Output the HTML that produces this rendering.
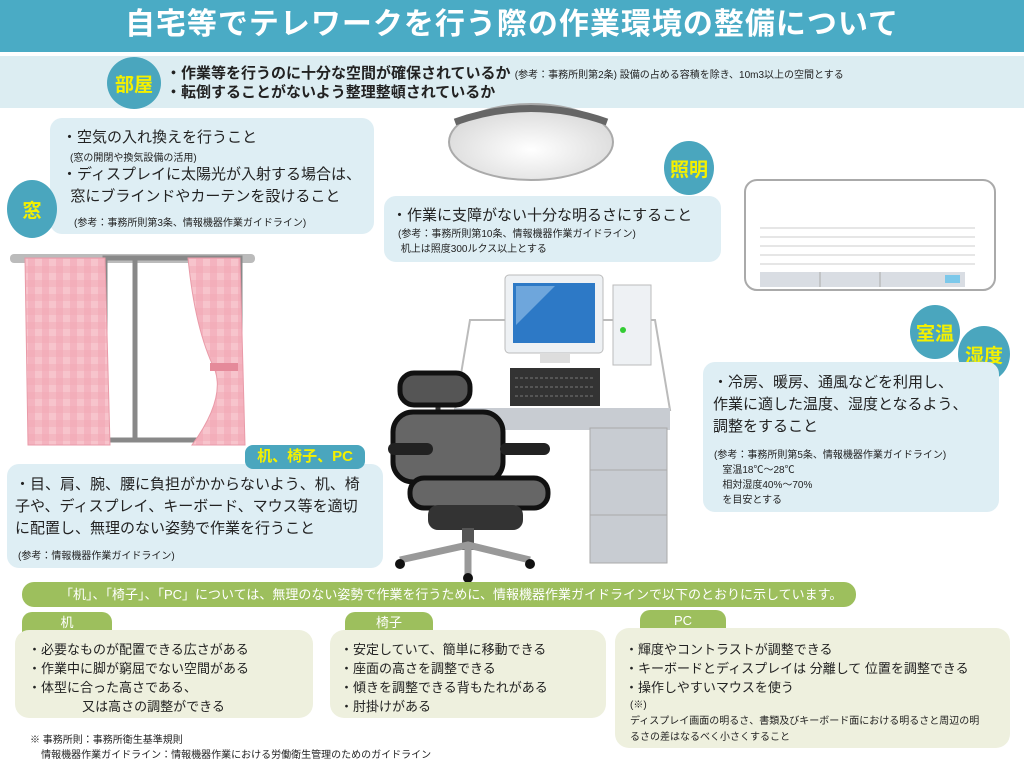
<!DOCTYPE html>
<html><head><meta charset="utf-8">
<style>
*{margin:0;padding:0;box-sizing:border-box}
body{width:1024px;height:771px;position:relative;background:#fff;overflow:hidden;font-family:"Liberation Sans","Noto Sans CJK JP",sans-serif;color:#222}
.a{position:absolute}
.box{position:absolute;background:#deeef4;border-radius:12px}
.circ{position:absolute;background:#4aa6be;border-radius:50%;color:#f4f000;font-weight:bold;display:flex;align-items:center;justify-content:center;font-size:19px}
.t{position:absolute;white-space:nowrap}
.g{position:absolute;background:#eef0de;border-radius:14px}
.tab{position:absolute;background:#9dbf5d;color:#fff;border-radius:10px 10px 0 0;font-size:13px;text-align:center;line-height:22px}
.s{font-size:10px}
</style></head><body>
<div class="a" style="left:0;top:0;width:1024px;height:52px;background:#4aabc5;color:#fff;font-size:30px;font-weight:bold;text-align:center;line-height:50px;letter-spacing:1px">自宅等でテレワークを行う際の作業環境の整備について</div>
<div class="a" style="left:0;top:56px;width:1024px;height:52px;background:#dcedf2"></div>
<div class="circ" style="left:107px;top:57px;width:54px;height:52px">部屋</div>
<div class="t" style="left:166px;top:62px;font-size:15px;font-weight:bold">・作業等を行うのに十分な空間が確保されているか <span class="s" style="font-weight:normal">(参考：事務所則第2条) 設備の占める容積を除き、10m3以上の空間とする</span></div>
<div class="t" style="left:166px;top:81px;font-size:15px;font-weight:bold">・転倒することがないよう整理整頓されているか</div>

<div class="box" style="left:50px;top:118px;width:324px;height:116px"></div>
<div class="t" style="left:62px;top:126px;font-size:15px">・空気の入れ換えを行うこと</div>
<div class="t s" style="left:70px;top:149px">(窓の開閉や換気設備の活用)</div>
<div class="t" style="left:62px;top:164px;font-size:15px;line-height:22px">・ディスプレイに太陽光が入射する場合は、<br>&nbsp;&nbsp;窓にブラインドやカーテンを設けること</div>
<div class="t s" style="left:74px;top:214px">(参考：事務所則第3条、情報機器作業ガイドライン)</div>
<div class="circ" style="left:7px;top:180px;width:50px;height:58px">窓</div>

<div class="box" style="left:384px;top:196px;width:337px;height:66px"></div>
<div class="t" style="left:392px;top:204px;font-size:15px">・作業に支障がない十分な明るさにすること</div>
<div class="t s" style="left:398px;top:227px;line-height:15px">(参考：事務所則第10条、情報機器作業ガイドライン)<br>&nbsp;机上は照度300ルクス以上とする</div>
<div class="circ" style="left:664px;top:141px;width:50px;height:54px">照明</div>

<svg class="a" style="left:0;top:0" width="1024" height="771">
<defs>
<radialGradient id="lg" cx="0.5" cy="0.6" r="0.6"><stop offset="0" stop-color="#fff"/><stop offset="1" stop-color="#d8d8d8"/></radialGradient>
<pattern id="ck" width="14" height="14" patternUnits="userSpaceOnUse"><rect width="14" height="14" fill="#f7c4cc"/><rect width="7" height="14" fill="#f2a9b5" opacity=".6"/><rect width="14" height="7" fill="#f2a9b5" opacity=".5"/></pattern>
</defs>
<!-- lamp -->
<ellipse cx="531" cy="142" rx="82" ry="38" fill="url(#lg)" stroke="#aaa" stroke-width="2"/>
<path d="M455,122 Q531,95 607,122" fill="none" stroke="#666" stroke-width="7"/>
<!-- AC -->
<rect x="745" y="180" width="250" height="110" rx="12" fill="#fff" stroke="#aaa" stroke-width="2"/>
<g stroke="#ccc"><line x1="760" y1="228" x2="975" y2="228"/><line x1="760" y1="237" x2="975" y2="237"/><line x1="760" y1="246" x2="975" y2="246"/><line x1="760" y1="255" x2="975" y2="255"/><line x1="760" y1="264" x2="975" y2="264"/></g>
<rect x="760" y="272" width="205" height="15" fill="#d9dde3"/>
<line x1="820" y1="272" x2="820" y2="287" stroke="#aaa"/><line x1="880" y1="272" x2="880" y2="287" stroke="#aaa"/>
<rect x="945" y="275" width="15" height="8" fill="#7cc8ea"/>
<!-- window -->
<rect x="10" y="254" width="245" height="9" rx="4" fill="#bbb"/>
<rect x="105" y="258" width="135" height="182" fill="none" stroke="#888" stroke-width="5"/>
<line x1="135" y1="258" x2="135" y2="440" stroke="#888" stroke-width="5"/>
<path d="M25,258 L105,258 L110,445 L28,445 Z" fill="url(#ck)" stroke="#e99aa8"/>
<path d="M188,258 L240,258 L245,445 L192,445 Q225,400 215,370 Q195,330 188,258Z" fill="url(#ck)" stroke="#e99aa8"/>
<rect x="210" y="363" width="28" height="8" fill="#e58a9a"/>
<!-- desk -->
<path d="M470,320 L655,320 L670,410 L455,410 Z" fill="#fff" stroke="#bbb" stroke-width="2"/>
<rect x="455" y="408" width="215" height="22" fill="#c8ccd2"/>
<rect x="590" y="428" width="77" height="135" fill="#c8ccd2" stroke="#aaa"/>
<line x1="590" y1="470" x2="667" y2="470" stroke="#aaa"/><line x1="590" y1="515" x2="667" y2="515" stroke="#aaa"/>
<rect x="505" y="275" width="98" height="78" rx="4" fill="#eef1f4" stroke="#bbb"/>
<rect x="513" y="283" width="82" height="60" fill="#2d79c6"/>
<path d="M516,286 L555,286 L516,325Z" fill="#6ea6dc"/>
<rect x="540" y="353" width="30" height="10" fill="#ddd"/>
<rect x="613" y="285" width="38" height="80" fill="#eef1f4" stroke="#bbb"/>
<circle cx="623" cy="330" r="3" fill="#3c3"/>
<rect x="510" y="368" width="90" height="38" fill="#333"/>
<g stroke="#777" stroke-dasharray="3,2"><line x1="515" y1="378" x2="595" y2="378"/><line x1="515" y1="387" x2="595" y2="387"/><line x1="515" y1="396" x2="595" y2="396"/></g>
<!-- chair -->
<line x1="438" y1="390" x2="438" y2="420" stroke="#333" stroke-width="5"/>
<rect x="400" y="373" width="70" height="32" rx="14" fill="#555" stroke="#111" stroke-width="5"/>
<rect x="393" y="412" width="110" height="70" rx="20" fill="#666" stroke="#111" stroke-width="5"/>
<rect x="410" y="478" width="138" height="30" rx="14" fill="#666" stroke="#111" stroke-width="5"/>
<rect x="388" y="443" width="45" height="12" rx="6" fill="#222"/>
<rect x="500" y="443" width="50" height="12" rx="6" fill="#222"/>
<rect x="428" y="505" width="95" height="25" rx="10" fill="#333"/>
<rect x="462" y="528" width="12" height="22" fill="#555"/>
<path d="M400,560 L468,545 L530,560 M468,545 L468,575" stroke="#999" stroke-width="7" fill="none"/>
<circle cx="400" cy="564" r="5" fill="#111"/><circle cx="530" cy="564" r="5" fill="#111"/><circle cx="468" cy="578" r="5" fill="#111"/>
</svg>

<div class="circ" style="left:910px;top:305px;width:50px;height:54px">室温</div>
<div class="circ" style="left:958px;top:326px;width:52px;height:56px">湿度</div>
<div class="box" style="left:703px;top:362px;width:296px;height:150px"></div>
<div class="t" style="left:713px;top:372px;font-size:15px;line-height:22px">・冷房、暖房、通風などを利用し、<br>作業に適した温度、湿度となるよう、<br>調整をすること</div>
<div class="t s" style="left:714px;top:448px;line-height:15px">(参考：事務所則第5条、情報機器作業ガイドライン)<br>&nbsp;&nbsp;&nbsp;室温18℃～28℃<br>&nbsp;&nbsp;&nbsp;相対湿度40%～70%<br>&nbsp;&nbsp;&nbsp;を目安とする</div>

<div class="box" style="left:7px;top:464px;width:376px;height:104px"></div>
<div class="a" style="left:245px;top:445px;width:120px;height:24px;background:#4aa6be;border-radius:8px;color:#f4f000;font-weight:bold;font-size:15px;text-align:center;line-height:24px">机、椅子、PC</div>
<div class="t" style="left:15px;top:474px;font-size:15px;line-height:22px">・目、肩、腕、腰に負担がかからないよう、机、椅<br>子や、ディスプレイ、キーボード、マウス等を適切<br>に配置し、無理のない姿勢で作業を行うこと</div>
<div class="t s" style="left:18px;top:547px">(参考：情報機器作業ガイドライン)</div>

<div class="a" style="left:22px;top:582px;width:834px;height:25px;background:#9dbf5d;border-radius:12px;color:#fff;font-size:13px;line-height:25px;padding-left:38px">「机」、「椅子」、「PC」については、無理のない姿勢で作業を行うために、情報機器作業ガイドラインで以下のとおりに示しています。</div>

<div class="tab" style="left:22px;top:612px;width:90px">机</div>
<div class="g" style="left:15px;top:630px;width:298px;height:88px"></div>
<div class="t" style="left:28px;top:640px;font-size:13px;line-height:19px">・必要なものが配置できる広さがある<br>・作業中に脚が窮屈でない空間がある<br>・体型に合った高さである、<br>&nbsp;&nbsp;&nbsp;&nbsp;&nbsp;&nbsp;&nbsp;&nbsp;&nbsp;&nbsp;&nbsp;&nbsp;&nbsp;&nbsp;&nbsp;又は高さの調整ができる</div>

<div class="tab" style="left:345px;top:612px;width:88px">椅子</div>
<div class="g" style="left:330px;top:630px;width:276px;height:88px"></div>
<div class="t" style="left:340px;top:640px;font-size:13px;line-height:19px">・安定していて、簡単に移動できる<br>・座面の高さを調整できる<br>・傾きを調整できる背もたれがある<br>・肘掛けがある</div>

<div class="tab" style="left:640px;top:610px;width:86px">PC</div>
<div class="g" style="left:615px;top:628px;width:395px;height:120px"></div>
<div class="t" style="left:625px;top:640px;font-size:13px;line-height:19px">・輝度やコントラストが調整できる<br>・キーボードとディスプレイは 分離して 位置を調整できる<br>・操作しやすいマウスを使う</div>
<div class="t s" style="left:630px;top:698px;line-height:16px">(※)<br>ディスプレイ画面の明るさ、書類及びキーボード面における明るさと周辺の明<br>るさの差はなるべく小さくすること</div>

<div class="t s" style="left:30px;top:733px;line-height:15px">※ 事務所則：事務所衛生基準規則<br>&nbsp;&nbsp;&nbsp;&nbsp;情報機器作業ガイドライン：情報機器作業における労働衛生管理のためのガイドライン</div>
</body></html>
